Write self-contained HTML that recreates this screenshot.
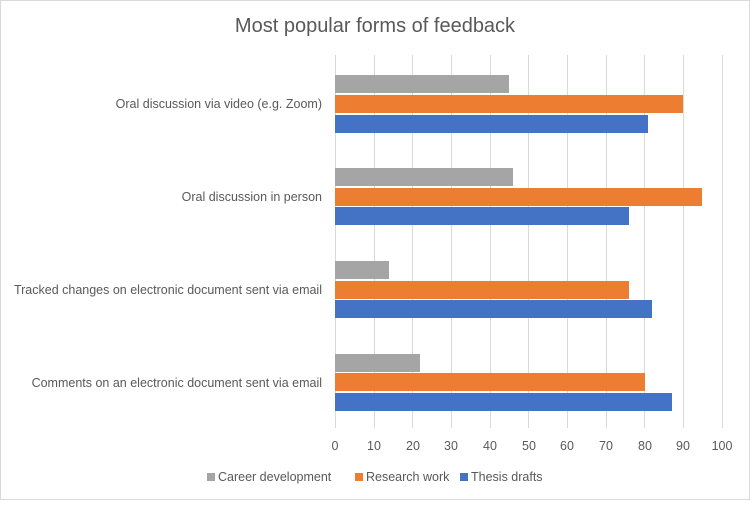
<!DOCTYPE html>
<html><head><meta charset="utf-8"><style>
body{margin:0;background:#fff}
svg text{font-family:"Liberation Sans",sans-serif;fill:#595959}
</style></head><body>
<svg width="750" height="500" xmlns="http://www.w3.org/2000/svg">
<rect x="0.5" y="0.5" width="749" height="499" fill="#fff" stroke="#d9d9d9"/>
<text x="375" y="32" font-size="20" text-anchor="middle">Most popular forms of feedback</text>
<g stroke="#d9d9d9" stroke-width="1">
<line x1="335.5" y1="55" x2="335.5" y2="428"/>
<line x1="374.5" y1="55" x2="374.5" y2="428"/>
<line x1="412.5" y1="55" x2="412.5" y2="428"/>
<line x1="451.5" y1="55" x2="451.5" y2="428"/>
<line x1="490.5" y1="55" x2="490.5" y2="428"/>
<line x1="528.5" y1="55" x2="528.5" y2="428"/>
<line x1="567.5" y1="55" x2="567.5" y2="428"/>
<line x1="606.5" y1="55" x2="606.5" y2="428"/>
<line x1="644.5" y1="55" x2="644.5" y2="428"/>
<line x1="683.5" y1="55" x2="683.5" y2="428"/>
<line x1="722.5" y1="55" x2="722.5" y2="428"/>
</g>
<g>
<rect x="335" y="75" width="174" height="18" fill="#A5A5A5"/>
<rect x="335" y="95" width="348" height="18" fill="#ED7D31"/>
<rect x="335" y="115" width="313" height="18" fill="#4472C4"/>
<rect x="335" y="168" width="178" height="18" fill="#A5A5A5"/>
<rect x="335" y="188" width="367" height="18" fill="#ED7D31"/>
<rect x="335" y="207" width="294" height="18" fill="#4472C4"/>
<rect x="335" y="261" width="54" height="18" fill="#A5A5A5"/>
<rect x="335" y="281" width="294" height="18" fill="#ED7D31"/>
<rect x="335" y="300" width="317" height="18" fill="#4472C4"/>
<rect x="335" y="354" width="85" height="18" fill="#A5A5A5"/>
<rect x="335" y="373" width="310" height="18" fill="#ED7D31"/>
<rect x="335" y="393" width="337" height="18" fill="#4472C4"/>
</g>
<g font-size="12.5" text-anchor="end">
<text x="322" y="108">Oral discussion via video (e.g. Zoom)</text>
<text x="322" y="201">Oral discussion in person</text>
<text x="322" y="294">Tracked changes on electronic document sent via email</text>
<text x="322" y="387">Comments on an electronic document sent via email</text>
</g>
<g font-size="12.5" text-anchor="middle">
<text x="335" y="450">0</text><text x="374" y="450">10</text><text x="413" y="450">20</text>
<text x="451" y="450">30</text><text x="490" y="450">40</text><text x="529" y="450">50</text>
<text x="567" y="450">60</text><text x="606" y="450">70</text><text x="645" y="450">80</text>
<text x="683" y="450">90</text><text x="722" y="450">100</text>
</g>
<g font-size="12.5">
<rect x="207" y="473" width="8" height="8" fill="#A5A5A5"/><text x="218" y="481">Career development</text>
<rect x="355" y="473" width="8" height="8" fill="#ED7D31"/><text x="366" y="481">Research work</text>
<rect x="460" y="473" width="8" height="8" fill="#4472C4"/><text x="471" y="481">Thesis drafts</text>
</g>
</svg>
</body></html>
